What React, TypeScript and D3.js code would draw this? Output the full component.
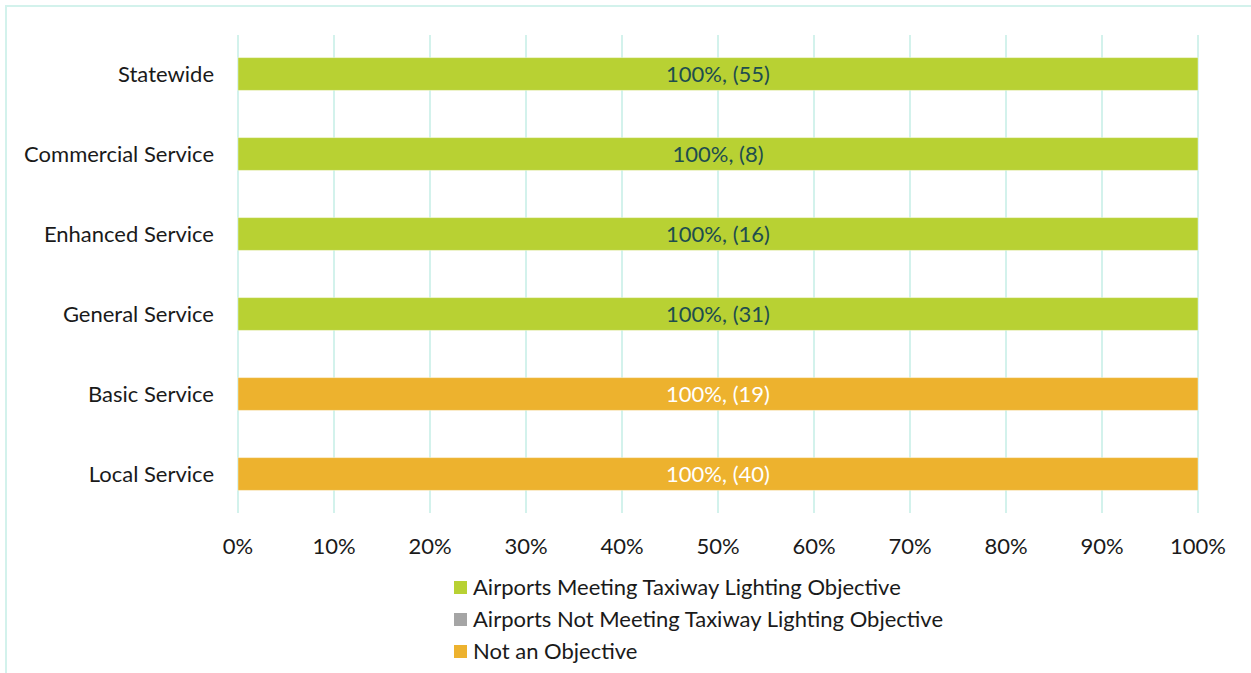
import * as d3 from 'd3'
import { useEffect, useRef } from 'react'

const categories = ['Statewide', 'Commercial Service', 'Enhanced Service', 'General Service', 'Basic Service', 'Local Service']
const meeting = [1, 1, 1, 1, 0, 0]
const notMeeting = [0, 0, 0, 0, 0, 0]
const notObjective = [0, 0, 0, 0, 1, 1]
const counts = [55, 8, 16, 31, 19, 40]
const seriesNames = ['Airports Meeting Taxiway Lighting Objective', 'Airports Not Meeting Taxiway Lighting Objective', 'Not an Objective']
const seriesColors = ['#b8d133', '#a5a5a5', '#edb22e']
const labelColors = ['#1e4d4e', '#ffffff', '#ffffff']
const xTicks = [0, 0.1, 0.2, 0.3, 0.4, 0.5, 0.6, 0.7, 0.8, 0.9, 1]

export default function App() {
  const ref = useRef<SVGSVGElement>(null)

  useEffect(() => {
    const svg = d3.select(ref.current)
    svg.selectAll('*').remove()
    const width = 1251
    const height = 673
    const font = 'Lato, "Open Sans", sans-serif'
    const fs = '22px'

    // frame
    svg.append('rect')
      .attr('x', 6).attr('y', 6)
      .attr('width', width + 20).attr('height', height + 20)
      .attr('fill', 'none').attr('stroke', '#d3f2ec').attr('stroke-width', 2)

    const x = d3.scaleLinear().domain([0, 1]).range([238, 1198])
    const y = d3.scaleBand().domain(categories).range([34, 514]).paddingInner(0.59).paddingOuter(0.295)

    // gridlines
    svg.append('g')
      .selectAll('line')
      .data(xTicks)
      .join('line')
      .attr('x1', (d) => x(d)).attr('x2', (d) => x(d))
      .attr('y1', 35).attr('y2', 513)
      .attr('stroke', '#d3f2ec').attr('stroke-width', 2)

    const rows = categories.map((c, i) => ({ cat: c, m: meeting[i], n: notMeeting[i], o: notObjective[i], count: counts[i] }))
    const keys = ['m', 'n', 'o']
    const stacked = d3.stack<any>().keys(keys)(rows)

    const plot = svg.append('g')
    stacked.forEach((layer, si) => {
      const g = plot.append('g')
      g.selectAll('rect')
        .data(layer.filter((d) => d[1] - d[0] > 0))
        .join('rect')
        .attr('x', (d) => x(d[0]))
        .attr('width', (d) => x(d[1]) - x(d[0]))
        .attr('y', (d) => y(d.data.cat)!)
        .attr('height', y.bandwidth())
        .attr('fill', seriesColors[si])
        .attr('stroke', '#ffffff').attr('stroke-opacity', 0.4).attr('stroke-width', 1)
      g.selectAll('text')
        .data(layer.filter((d) => d[1] - d[0] > 0))
        .join('text')
        .attr('x', (d) => (x(d[0]) + x(d[1])) / 2)
        .attr('y', (d) => y(d.data.cat)! + y.bandwidth() / 2)
        .attr('dy', '0.35em')
        .attr('text-anchor', 'middle')
        .attr('fill', labelColors[si])
        .style('font-family', font).style('font-size', fs)
        .text((d) => `${Math.round((d[1] - d[0]) * 100)}%, (${d.data.count})`)
    })

    // y axis labels
    svg.append('g')
      .selectAll('text')
      .data(categories)
      .join('text')
      .attr('x', 214)
      .attr('y', (d) => y(d)! + y.bandwidth() / 2)
      .attr('dy', '0.35em')
      .attr('text-anchor', 'end')
      .attr('fill', '#1a1a1a')
      .style('font-family', font).style('font-size', fs)
      .text((d) => d)

    // x axis labels
    svg.append('g')
      .selectAll('text')
      .data(xTicks)
      .join('text')
      .attr('x', (d) => x(d))
      .attr('y', 546)
      .attr('dy', '0.35em')
      .attr('text-anchor', 'middle')
      .attr('fill', '#1a1a1a')
      .style('font-family', font).style('font-size', fs)
      .text((d) => d3.format('.0%')(d))

    // legend
    const legend = svg.append('g')
      .selectAll('g')
      .data(seriesNames)
      .join('g')
      .attr('transform', (d, i) => `translate(454,${587 + i * 32})`)
    legend.append('rect')
      .attr('x', 0).attr('y', -6).attr('width', 13).attr('height', 13)
      .attr('fill', (d, i) => seriesColors[i])
    legend.append('text')
      .attr('x', 19).attr('y', 0).attr('dy', '0.35em')
      .attr('fill', '#1a1a1a')
      .style('font-family', font).style('font-size', fs)
      .text((d) => d)
  }, [])

  return (
    <svg ref={ref} width={1251} height={673} style={{ position: 'absolute', left: 0, top: 0, background: '#fff' }} />
  )
}
